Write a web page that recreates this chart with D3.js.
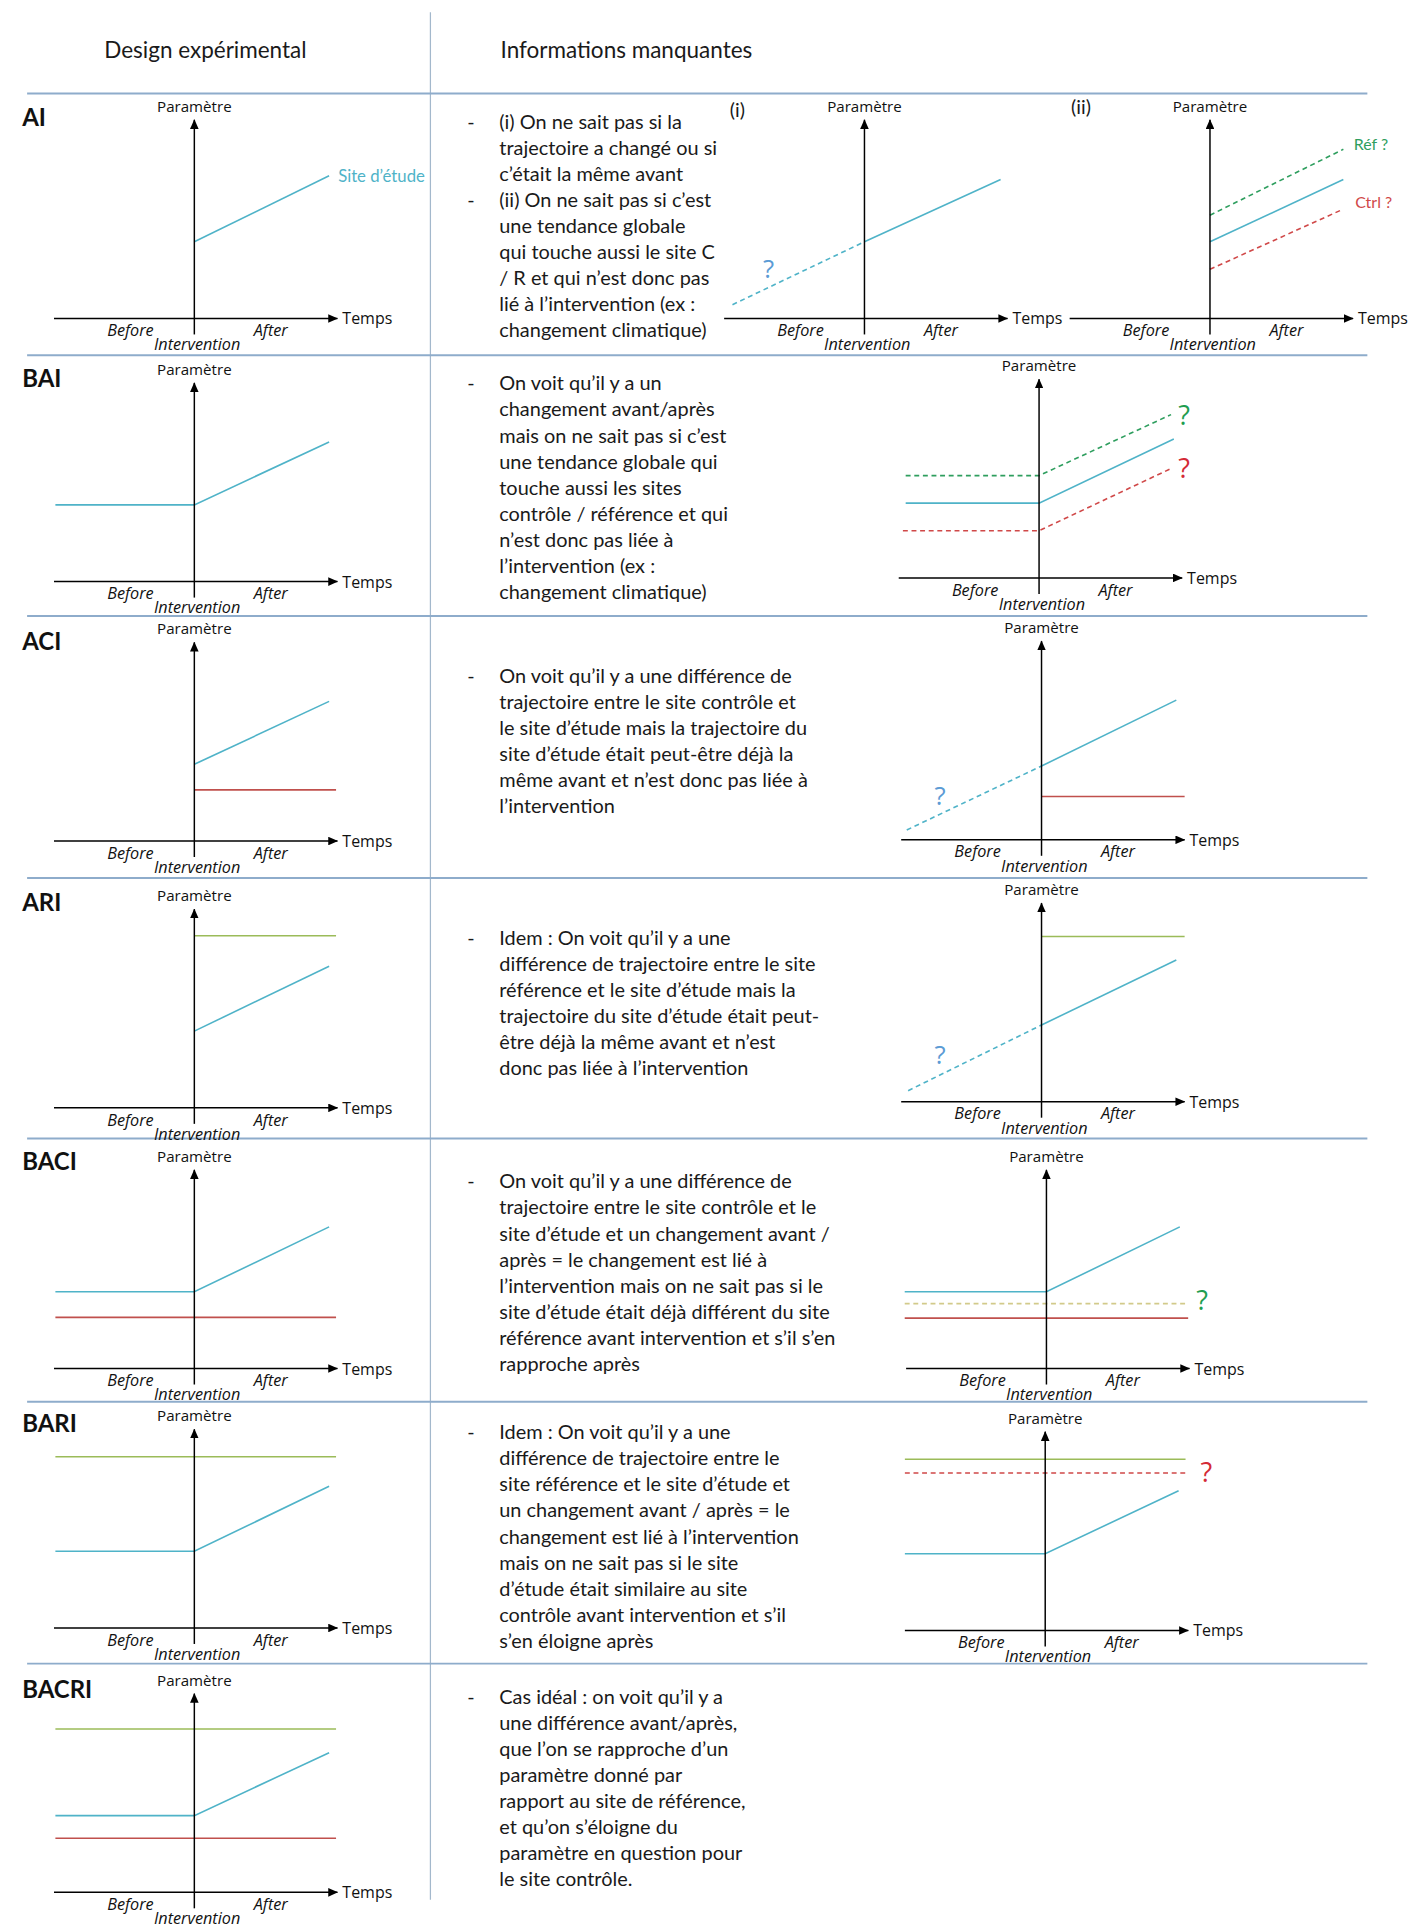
<!DOCTYPE html>
<html><head><meta charset="utf-8">
<script src="https://cdn.jsdelivr.net/npm/d3@7"></script>
<style>body{margin:0;background:#fff}</style>
</head><body><div id="chart"></div>
<script>
// ================= DATA =================
const headers = ["Design expérimental", "Informations manquantes"];
const rowLabels = ["AI", "BAI", "ACI", "ARI", "BACI", "BARI", "BACRI"];
const axisLabels = ["Paramètre", "Temps"];
const phaseLabels = ["Before", "Intervention", "After"];
const subLabels = ["(i)", "(ii)"];
const siteLabel = "Site d’étude";
const refLabel = "Réf ?";
const ctrlLabel = "Ctrl ?";
const qLabel = "?";

// series: [time, parameter] ; time -1 = start, 0 = intervention, 1 = end
const aiStudy      = [[0, 3.9], [0.97, 7.25]];
const baiStudy     = [[-1, 3.9], [0, 3.9], [0.97, 7.1]];
const aciStudy     = [[0, 3.9], [0.97, 7.1]];
const aciControl   = [[0, 2.6], [1.02, 2.6]];
const ariRef       = [[0, 8.75], [1.02, 8.75]];
const ariStudy     = [[0, 3.9], [0.97, 7.2]];
const baciStudy    = [[-1, 3.9], [0, 3.9], [0.97, 7.2]];
const baciControl  = [[-1, 2.6], [1.02, 2.6]];
const bariRef      = [[-1, 8.7], [1.02, 8.7]];
const bariStudy    = [[-1, 3.9], [0, 3.9], [0.97, 7.2]];
const bacriRef     = [[-1, 8.3], [1.02, 8.3]];
const bacriStudy   = [[-1, 3.9], [0, 3.9], [0.97, 7.1]];
const bacriControl = [[-1, 2.75], [1.02, 2.75]];

const aiiStudy     = [[0, 3.9], [0.98, 7.06]];
const aiiPast      = [[-0.95, 0.7], [0, 3.9]];
const aiiiRef      = [[0, 5.25], [0.96, 8.6]];
const aiiiStudy    = [[0, 3.9], [0.96, 7.06]];
const aiiiCtrl     = [[0, 2.5], [0.96, 5.56]];
const baiRRef      = [[-0.96, 5.2], [0, 5.2], [0.95, 8.3]];
const baiRStudy    = [[-0.96, 3.8], [0, 3.8], [0.97, 7.06]];
const baiRCtrl     = [[-0.98, 2.4], [0, 2.4], [0.95, 5.56]];
const aciRStudy    = [[0, 3.75], [0.97, 7.1]];
const aciRPast     = [[-0.97, 0.5], [0, 3.75]];
const aciRCtrl     = [[0, 2.2], [1.03, 2.2]];
const ariRRef      = [[0, 8.4], [1.03, 8.4]];
const ariRStudy    = [[0, 3.9], [0.97, 7.2]];
const ariRPast     = [[-0.96, 0.56], [0, 3.9]];
const baciRStudy   = [[-1.02, 3.9], [0, 3.9], [0.96, 7.2]];
const baciRRef     = [[-1.02, 3.3], [1.02, 3.3]];
const baciRCtrl    = [[-1.02, 2.56], [1.02, 2.56]];
const bariRRef     = [[-1.01, 8.7], [1.01, 8.7]];
const bariRCtrl    = [[-1.01, 8.0], [1.01, 8.0]];
const bariRStudy   = [[-1.01, 3.9], [0, 3.9], [0.96, 7.1]];

const textAI = ["(i) On ne sait pas si la", "trajectoire a changé ou si", "c’était la même avant",
  "(ii) On ne sait pas si c’est", "une tendance globale", "qui touche aussi le site C",
  "/ R et qui n’est donc pas", "lié à l’intervention (ex :", "changement climatique)"];
const textBAI = ["On voit qu’il y a un", "changement avant/après", "mais on ne sait pas si c’est",
  "une tendance globale qui", "touche aussi les sites", "contrôle / référence et qui",
  "n’est donc pas liée à", "l’intervention (ex :", "changement climatique)"];
const textACI = ["On voit qu’il y a une différence de", "trajectoire entre le site contrôle et",
  "le site d’étude mais la trajectoire du", "site d’étude était peut-être déjà la",
  "même avant et n’est donc pas liée à", "l’intervention"];
const textARI = ["Idem : On voit qu’il y a une", "différence de trajectoire entre le site",
  "référence et le site d’étude mais la", "trajectoire du site d’étude était peut-",
  "être déjà la même avant et n’est", "donc pas liée à l’intervention"];
const textBACI = ["On voit qu’il y a une différence de", "trajectoire entre le site contrôle et le",
  "site d’étude et un changement avant /", "après = le changement est lié à",
  "l’intervention mais on ne sait pas si le", "site d’étude était déjà différent du site",
  "référence avant intervention et s’il s’en", "rapproche après"];
const textBARI = ["Idem : On voit qu’il y a une", "différence de trajectoire entre le",
  "site référence et le site d’étude et", "un changement avant / après = le",
  "changement est lié à l’intervention", "mais on ne sait pas si le site",
  "d’étude était similaire au site", "contrôle avant intervention et s’il", "s’en éloigne après"];
const textBACRI = ["Cas idéal : on voit qu’il y a", "une différence avant/après,",
  "que l’on se rapproche d’un", "paramètre donné par", "rapport au site de référence,",
  "et qu’on s’éloigne du", "paramètre en question pour", "le site contrôle."];

// ================= STYLE / LAYOUT =================
const C = {
  blue: "#4fb3c8", red: "#c0504d", green: "#9bbb59", dgreen: "#2e9e5e", dred: "#d04848",
  khaki: "#d2ca8a", qblue: "#5b9bd5", qgreen: "#1f9e50", qred: "#d42a35", sep: "#8eaccb"
};
const W = 1145, H = 1568;
const svg = d3.select("#chart").append("svg")
  .attr("width", 1408).attr("height", 1928)
  .attr("viewBox", `0 0 ${W} ${H}`)
  .style("display", "block");
svg.append("rect").attr("width", W).attr("height", H).attr("fill", "#fff");

const defs = svg.append("defs");
defs.append("marker").attr("id", "arr").attr("viewBox", "0 0 8 7")
  .attr("refX", 7.5).attr("refY", 3.5).attr("markerUnits", "userSpaceOnUse")
  .attr("markerWidth", 8).attr("markerHeight", 7).attr("orient", "auto")
  .append("path").attr("d", "M0,0L8,3.5L0,7z").attr("fill", "#000");

const bodyFont = "Lato, 'Open Sans', sans-serif";
const axisFont = "'Open Sans', 'Noto Sans', sans-serif";

// separators
const rowTops = [76, 289, 501, 714, 926, 1140, 1353];
svg.append("line").attr("x1", 350).attr("x2", 350).attr("y1", 10).attr("y2", 1545)
  .attr("stroke", "#a3b8cc").attr("stroke-width", 1);
svg.selectAll("line.sep").data(rowTops).join("line").attr("class", "sep")
  .attr("x1", 22).attr("x2", 1112).attr("y1", d => d).attr("y2", d => d)
  .attr("stroke", C.sep).attr("stroke-width", 1.6);

// headers
svg.append("text").attr("x", 167).attr("y", 40).attr("text-anchor", "middle")
  .attr("dominant-baseline", "central").attr("font-family", bodyFont).attr("font-size", 18.3)
  .attr("fill", "#1a1a1a").text(headers[0]);
svg.append("text").attr("x", 407).attr("y", 40)
  .attr("dominant-baseline", "central").attr("font-family", bodyFont).attr("font-size", 18.3)
  .attr("fill", "#1a1a1a").text(headers[1]);

// row labels
const rowLabelY = [95, 307, 521, 733, 944, 1157, 1373];
svg.selectAll("text.rl").data(rowLabels).join("text").attr("class", "rl")
  .attr("x", 18).attr("y", (d, i) => rowLabelY[i]).attr("dominant-baseline", "central")
  .attr("font-family", bodyFont).attr("font-weight", 700).attr("font-size", 19.5)
  .attr("fill", "#111").text(d => d);

// text blocks
const blocks = [
  {lines: textAI, y0: 98, dashes: [0, 3]},
  {lines: textBAI, y0: 311, dashes: [0]},
  {lines: textACI, y0: 549, dashes: [0]},
  {lines: textARI, y0: 762, dashes: [0]},
  {lines: textBACI, y0: 960, dashes: [0]},
  {lines: textBARI, y0: 1164, dashes: [0]},
  {lines: textBACRI, y0: 1379, dashes: [0]}
];
const LH = 21.2;
blocks.forEach(b => {
  const g = svg.append("g").attr("font-family", bodyFont).attr("font-size", 16.2).attr("fill", "#1a1a1a");
  g.selectAll("text.l").data(b.lines).join("text").attr("class", "l")
    .attr("x", 406).attr("y", (d, i) => b.y0 + i * LH).attr("dominant-baseline", "central").text(d => d);
  g.selectAll("text.d").data(b.dashes).join("text").attr("class", "d")
    .attr("x", 380).attr("y", d => b.y0 + d * LH).attr("dominant-baseline", "central").text("-");
});

// panels
function S(data, color, dash) { return {data, color, dash}; }
function N(text, t, v, color, size, anchor) { return {text, t, v, color, size, anchor}; }

const panels = [
  {ox: 158, oy: 259, series: [S(aiStudy, C.blue)], notes: [N(siteLabel, 1.035, 7.25, C.blue, 13.6, "start")]},
  {ox: 158, oy: 473, series: [S(baiStudy, C.blue)], notes: []},
  {ox: 158, oy: 684, series: [S(aciStudy, C.blue), S(aciControl, C.red)], notes: []},
  {ox: 158, oy: 901, series: [S(ariRef, C.green), S(ariStudy, C.blue)], notes: []},
  {ox: 158, oy: 1113, series: [S(baciStudy, C.blue), S(baciControl, C.red)], notes: []},
  {ox: 158, oy: 1324, series: [S(bariRef, C.green), S(bariStudy, C.blue)], notes: []},
  {ox: 158, oy: 1539, series: [S(bacriRef, C.green), S(bacriStudy, C.blue), S(bacriControl, C.red)], notes: []},
  {ox: 703, oy: 259, series: [S(aiiPast, C.blue, true), S(aiiStudy, C.blue)],
    notes: [N(qLabel, -0.69, 2.56, C.qblue, 21, "middle"), N(subLabels[0], -0.97, 10.6, "#1a1a1a", 16, "start")]},
  {ox: 984, oy: 259, series: [S(aiiiRef, C.dgreen, true), S(aiiiStudy, C.blue), S(aiiiCtrl, C.dred, true)],
    notes: [N(refLabel, 1.035, 8.9, C.dgreen, 13, "start"), N(ctrlLabel, 1.045, 5.94, C.dred, 13, "start"),
            N(subLabels[1], -1.0, 10.75, "#1a1a1a", 16, "start")]},
  {ox: 845, oy: 470, series: [S(baiRRef, C.dgreen, true), S(baiRStudy, C.blue), S(baiRCtrl, C.dred, true)],
    notes: [N(qLabel, 1.044, 8.3, C.qgreen, 22, "middle"), N(qLabel, 1.044, 5.6, C.qred, 22, "middle")]},
  {ox: 847, oy: 683, series: [S(aciRPast, C.blue, true), S(aciRStudy, C.blue), S(aciRCtrl, C.red)],
    notes: [N(qLabel, -0.73, 2.3, C.qblue, 21, "middle")]},
  {ox: 847, oy: 896, series: [S(ariRRef, C.green), S(ariRPast, C.blue, true), S(ariRStudy, C.blue)],
    notes: [N(qLabel, -0.73, 2.44, C.qblue, 21, "middle")]},
  {ox: 851, oy: 1113, series: [S(baciRStudy, C.blue), S(baciRRef, C.khaki, true), S(baciRCtrl, C.red)],
    notes: [N(qLabel, 1.12, 3.5, C.qgreen, 22, "middle")]},
  {ox: 850, oy: 1326, series: [S(bariRRef, C.green), S(bariRCtrl, C.dred, true), S(bariRStudy, C.blue)],
    notes: [N(qLabel, 1.16, 8.1, C.qred, 22, "middle")]}
];

panels.forEach(p => {
  const g = svg.append("g");
  const x = d3.scaleLinear().domain([-1, 1]).range([p.ox - 113, p.ox + 113]);
  const y = d3.scaleLinear().domain([0, 10]).range([p.oy, p.oy - 160]);
  const line = d3.line().x(d => x(d[0])).y(d => y(d[1]));
  p.series.forEach(s => {
    g.append("path").attr("d", line(s.data)).attr("fill", "none")
      .attr("stroke", s.color).attr("stroke-width", 1.3)
      .attr("stroke-dasharray", s.dash ? "4,3" : null);
  });
  // axes
  g.append("line").attr("x1", x(-1.01)).attr("x2", x(1.03)).attr("y1", y(0)).attr("y2", y(0))
    .attr("stroke", "#000").attr("stroke-width", 1.2).attr("marker-end", "url(#arr)");
  g.append("line").attr("x1", x(0)).attr("x2", x(0)).attr("y1", y(0) + 13).attr("y2", y(10.1))
    .attr("stroke", "#000").attr("stroke-width", 1.2).attr("marker-end", "url(#arr)");
  g.append("text").attr("x", x(0)).attr("y", y(0) - 173).attr("text-anchor", "middle")
    .attr("dominant-baseline", "central").attr("font-family", axisFont).attr("font-size", 12.3)
    .attr("fill", "#111").text(axisLabels[0]);
  g.append("text").attr("x", x(1.03) + 4).attr("y", y(0)).attr("dominant-baseline", "central")
    .attr("font-family", axisFont).attr("font-size", 13).attr("fill", "#111").text(axisLabels[1]);
  const ph = [{t: -0.46, dy: 9.5}, {t: 0.02, dy: 21}, {t: 0.55, dy: 9.5}];
  phaseLabels.forEach((lab, i) => {
    g.append("text").attr("x", x(ph[i].t)).attr("y", y(0) + ph[i].dy).attr("text-anchor", "middle")
      .attr("dominant-baseline", "central").attr("font-family", axisFont).attr("font-style", "italic")
      .attr("font-size", 13.2).attr("fill", "#111").text(lab);
  });
  p.notes.forEach(n => {
    g.append("text").attr("x", x(n.t)).attr("y", y(n.v)).attr("text-anchor", n.anchor)
      .attr("dominant-baseline", "central").attr("font-family", n.size > 16 ? axisFont : bodyFont)
      .attr("font-size", n.size).attr("fill", n.color).text(n.text);
  });
});
</script>
</body></html>
